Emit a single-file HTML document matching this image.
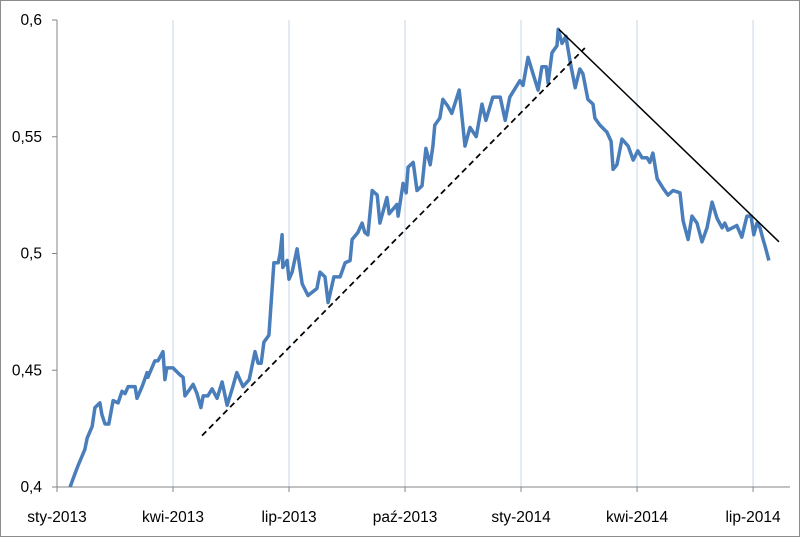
<!DOCTYPE html>
<html><head><meta charset="utf-8"><style>
body{margin:0;background:#fff}
svg{display:block;font-family:"Liberation Sans",sans-serif}
</style></head><body>
<svg id="chart" width="800" height="537">
<rect x="0.5" y="0.5" width="799" height="536" fill="#fff" stroke="#8c8c8c"/>
</svg>
<script>
const monthTicks=[0,3,6,9,12,15,18];
const monthLabels=["sty-2013","kwi-2013","lip-2013","paź-2013","sty-2014","kwi-2014","lip-2014"];
const yTicks=[0.4,0.45,0.5,0.55,0.6];
const yLabels=["0,4","0,45","0,5","0,55","0,6"];
const months=[.34,.47,.54,.72,.78,.91,.98,1.11,1.16,1.24,1.34,1.45,1.58,1.68,1.76,1.84,2.02,2.07,2.20,2.33,2.35,2.53,2.61,2.74,2.79,2.84,3.00,3.18,3.26,3.31,3.44,3.52,3.62,3.72,3.78,3.90,4.01,4.14,4.27,4.40,4.53,4.65,4.81,4.97,5.12,5.20,5.28,5.35,5.48,5.61,5.72,5.77,5.82,5.84,5.95,6.00,6.08,6.21,6.34,6.49,6.72,6.80,6.93,7.01,7.16,7.32,7.45,7.58,7.63,7.78,7.89,7.96,8.04,8.15,8.28,8.35,8.53,8.59,8.79,8.82,8.95,9.03,9.08,9.21,9.31,9.44,9.54,9.65,9.72,9.77,9.90,9.98,10.11,10.21,10.40,10.55,10.68,10.84,10.99,11.09,11.27,11.46,11.59,11.71,11.97,12.05,12.18,12.31,12.44,12.54,12.65,12.70,12.80,12.93,12.96,13.06,13.16,13.27,13.40,13.52,13.60,13.73,13.86,13.91,14.04,14.22,14.33,14.38,14.48,14.61,14.77,14.90,15.02,15.13,15.26,15.33,15.41,15.52,15.67,15.80,15.93,16.11,16.19,16.32,16.42,16.55,16.68,16.81,16.94,17.07,17.20,17.27,17.35,17.58,17.71,17.84,17.95,18.02,18.10,18.18,18.26,18.33,18.41];
const values=[.400,.406,.409,.416,.421,.426,.434,.436,.431,.427,.427,.437,.436,.441,.440,.443,.443,.438,.443,.449,.447,.454,.454,.458,.446,.451,.451,.448,.447,.439,.442,.444,.440,.434,.439,.439,.442,.438,.445,.435,.442,.449,.443,.446,.458,.453,.453,.462,.465,.496,.496,.500,.508,.494,.497,.489,.492,.502,.487,.482,.485,.492,.490,.479,.490,.490,.496,.497,.506,.509,.513,.509,.508,.527,.525,.513,.524,.517,.521,.516,.530,.526,.537,.539,.527,.529,.545,.538,.546,.555,.558,.566,.563,.560,.570,.546,.554,.550,.564,.557,.567,.567,.557,.567,.574,.572,.584,.577,.570,.580,.580,.573,.586,.589,.596,.590,.593,.582,.571,.579,.577,.566,.564,.558,.555,.552,.548,.536,.538,.549,.546,.540,.544,.541,.541,.539,.543,.532,.528,.525,.527,.526,.514,.506,.516,.513,.505,.511,.522,.515,.511,.513,.510,.512,.507,.516,.516,.508,.513,.511,.506,.502,.497];
const upTrendM=[3.75,13.65], upTrendV=[.422,.588];
const downTrendM=[12.98,18.67], downTrendV=[.596,.505];

const NS="http://www.w3.org/2000/svg";
const svg=document.getElementById('chart');
const X0=57,PX_M=38.67,Y0=487,Y1=20;
const xs=m=>X0+m*PX_M;
const ys=v=>Y0-(v-0.4)/0.2*(Y0-Y1);
function mk(t,a){const e=document.createElementNS(NS,t);for(const k in a)e.setAttribute(k,a[k]);svg.appendChild(e);return e;}

monthTicks.forEach((m,i)=>{
  if(i>0){const g=mk('line',{x1:xs(m),x2:xs(m),y1:Y1,y2:Y0,stroke:'#c5d5e8','stroke-width':1});
  
  }
  const tk=mk('line',{x1:xs(m),x2:xs(m),y1:Y0,y2:Y0+5,stroke:'#868686'});
  
  
  const t=mk('text',{x:xs(m),y:522,'text-anchor':'middle','font-size':15.5,fill:'#000'});
  t.textContent=monthLabels[i];
  
  
});
yTicks.forEach((v,i)=>{
  const tk=mk('line',{x1:X0-5,x2:X0,y1:ys(v),y2:ys(v),stroke:'#868686'});
  
  
  const t=mk('text',{x:42,y:ys(v)+5,'text-anchor':'end','font-size':15.5,fill:'#000'});
  t.textContent=yLabels[i];
  
  
});
const ya=mk('line',{x1:X0,x2:X0,y1:Y1,y2:Y0,stroke:'#868686'});


const xa=mk('line',{x1:X0,x2:790,y1:Y0,y2:Y0,stroke:'#868686'});



const pts=months.map((m,i)=>xs(m).toFixed(1)+','+ys(values[i]).toFixed(1)).join(' ');
const line=mk('polyline',{points:pts,fill:'none',stroke:'#4a7ebb','stroke-width':3.5,'stroke-linejoin':'round'});



const up=mk('line',{x1:xs(upTrendM[0]),y1:ys(upTrendV[0]),x2:xs(upTrendM[1]),y2:ys(upTrendV[1]),stroke:'#000','stroke-width':1.75,'stroke-dasharray':'6,4'});


const dn=mk('line',{x1:xs(downTrendM[0]),y1:ys(downTrendV[0]),x2:xs(downTrendM[1]),y2:ys(downTrendV[1]),stroke:'#000','stroke-width':1.5});


</script>
</body></html>
